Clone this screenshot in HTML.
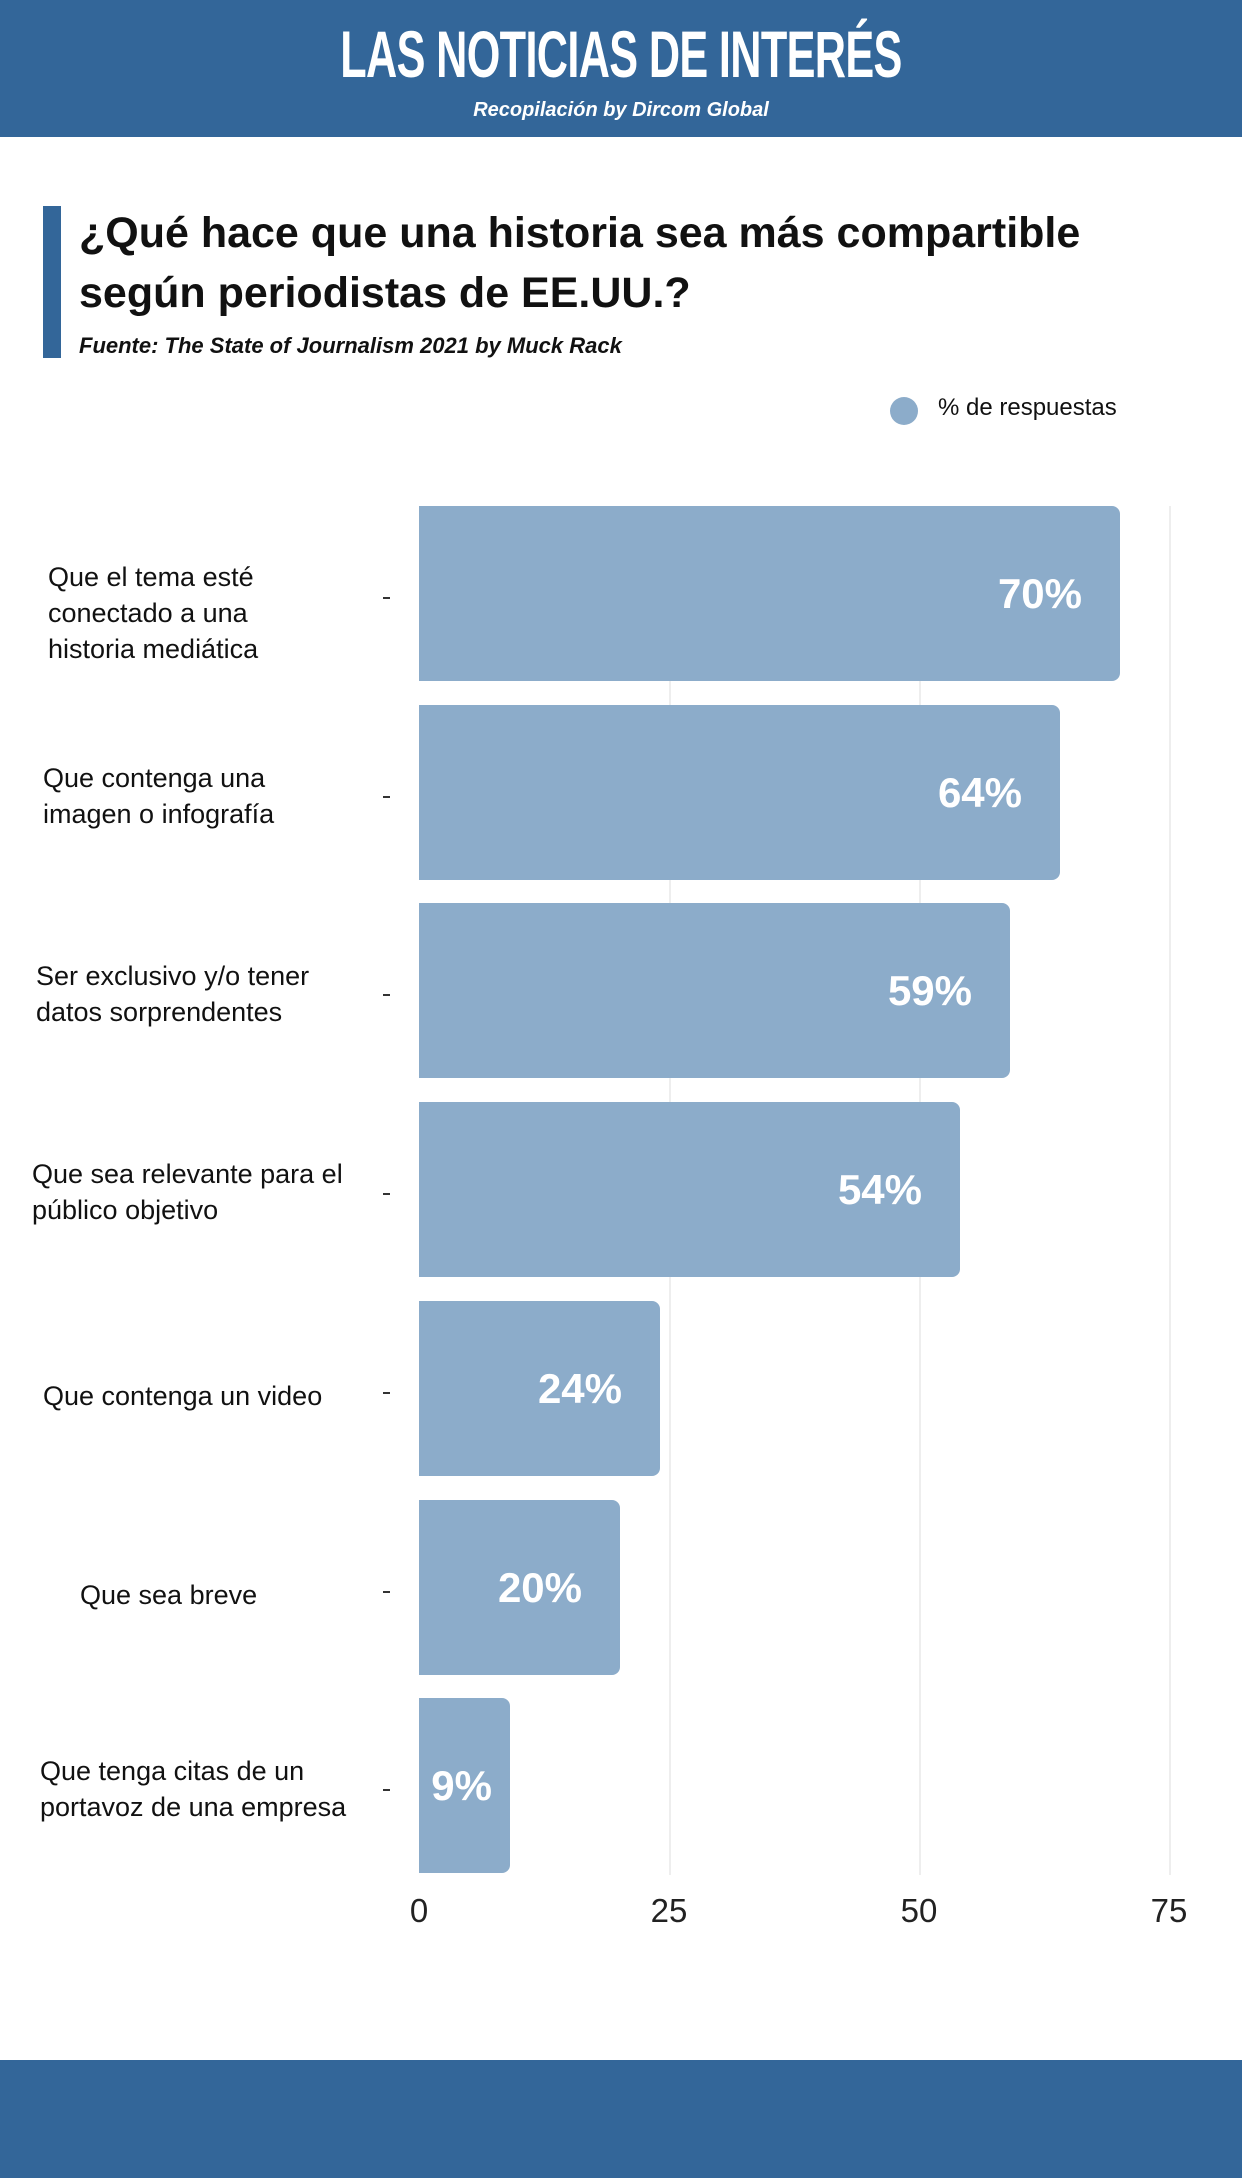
<!DOCTYPE html>
<html><head><meta charset="utf-8"><style>
body{margin:0;width:1242px;height:2178px;background:#fff;position:relative;overflow:hidden;font-family:"Liberation Sans","DejaVu Sans",sans-serif;}
.abs{position:absolute}
.hdr{left:0;top:0;width:1242px;height:137px;background:#336699}
.ftr{left:0;top:2060px;width:1242px;height:118px;background:#336699}
.h1{left:0;width:1242px;top:14px;text-align:center;color:#fff;font-size:66px;font-weight:bold;transform:scaleX(0.655);letter-spacing:-1px;line-height:80px}
.h2{left:0;width:1242px;top:99px;text-align:center;color:#fff;font-size:20px;font-weight:bold;font-style:italic}
.grid{width:2px;background:#eeeeee;top:506px;height:1369px}
.bar{left:419px;height:175px;background:#8cacca;border-radius:0 8px 8px 0}
.val{color:#fff;font-weight:bold;font-size:42px;text-align:right;line-height:175px;padding-right:38px;box-sizing:border-box;width:100%}
.cat{font-size:27px;line-height:36px;color:#111;height:175px;display:flex;align-items:center}
.tick{left:383px;width:7px;height:2px;background:#333}
.tl{top:1892px;font-size:33px;color:#222;width:100px;margin-left:-50px;text-align:center;font-weight:300}
</style></head><body>
<div class="abs hdr"></div>
<div class="abs h1">LAS NOTICIAS DE INTERÉS</div>
<div class="abs h2">Recopilación by Dircom Global</div>
<div class="abs" style="left:43px;top:206px;width:18px;height:152px;background:#336699"></div>
<div class="abs" style="left:79px;top:203px;font-size:43px;font-weight:bold;line-height:60px;color:#111">¿Qué hace que una historia sea más compartible<br>según periodistas de EE.UU.?</div>
<div class="abs" style="left:79px;top:333px;font-size:22px;font-weight:bold;font-style:italic;color:#111">Fuente: The State of Journalism 2021 by Muck Rack</div>
<div class="abs" style="left:890px;top:397px;width:28px;height:28px;border-radius:50%;background:#8cacca"></div>
<div class="abs" style="left:938px;top:394px;font-size:24px;color:#111">% de respuestas</div>

<div class="abs grid" style="left:669px"></div>
<div class="abs grid" style="left:919px"></div>
<div class="abs grid" style="left:1169px"></div>

<div class="abs bar" style="top:506px;width:701px"><div class="val">70%</div></div>
<div class="abs bar" style="top:705px;width:641px"><div class="val">64%</div></div>
<div class="abs bar" style="top:903px;width:591px"><div class="val">59%</div></div>
<div class="abs bar" style="top:1102px;width:541px"><div class="val">54%</div></div>
<div class="abs bar" style="top:1301px;width:241px"><div class="val">24%</div></div>
<div class="abs bar" style="top:1500px;width:201px"><div class="val">20%</div></div>
<div class="abs bar" style="top:1698px;width:91px"><div class="val" style="padding-right:18px">9%</div></div>

<div class="abs cat" style="left:48px;top:525px">Que el tema esté<br>conectado a una<br>historia mediática</div>
<div class="abs cat" style="left:43px;top:708px">Que contenga una<br>imagen o infografía</div>
<div class="abs cat" style="left:36px;top:906px">Ser exclusivo y/o tener<br>datos sorprendentes</div>
<div class="abs cat" style="left:32px;top:1104px">Que sea relevante para el<br>público objetivo</div>
<div class="abs cat" style="left:43px;top:1308px">Que contenga un video</div>
<div class="abs cat" style="left:80px;top:1507px">Que sea breve</div>
<div class="abs cat" style="left:40px;top:1701px">Que tenga citas de un<br>portavoz de una empresa</div>

<div class="abs tick" style="top:597px"></div>
<div class="abs tick" style="top:796px"></div>
<div class="abs tick" style="top:994px"></div>
<div class="abs tick" style="top:1193px"></div>
<div class="abs tick" style="top:1392px"></div>
<div class="abs tick" style="top:1591px"></div>
<div class="abs tick" style="top:1789px"></div>

<div class="abs tl" style="left:419px">0</div>
<div class="abs tl" style="left:669px">25</div>
<div class="abs tl" style="left:919px">50</div>
<div class="abs tl" style="left:1169px">75</div>

<div class="abs ftr"></div>
</body></html>
